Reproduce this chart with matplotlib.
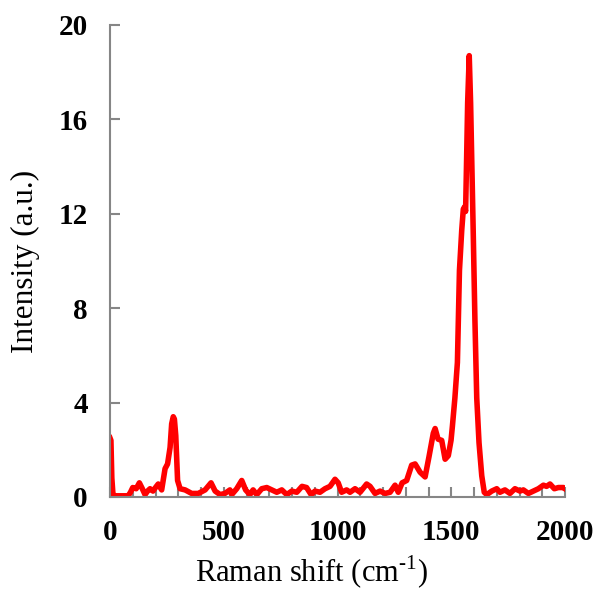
import matplotlib
matplotlib.use("Agg")
import matplotlib.pyplot as plt
from matplotlib.ticker import MultipleLocator

# spectrum (Raman shift, intensity)
shift = [0, 4, 8, 13, 20, 40, 80, 90, 100, 115, 129, 142, 154, 165, 176, 189, 200, 212,
         227, 242, 253, 264, 271, 278, 283, 289, 297, 308, 330, 359, 388, 418, 444, 462,
         484, 505, 527, 535, 557, 579, 596, 615, 629, 645, 667, 689, 711, 733, 755, 777,
         799, 821, 844, 864, 884, 901, 923, 945, 967, 989, 1003, 1018, 1040, 1055, 1077,
         1099, 1128, 1143, 1165, 1187, 1209, 1231, 1253, 1267, 1284, 1304, 1326, 1341,
         1363, 1385, 1402, 1421, 1429, 1442, 1458, 1473, 1487, 1499, 1505, 1516, 1527,
         1536, 1546, 1553, 1559, 1563, 1568, 1572, 1579, 1585, 1590, 1597, 1604, 1612,
         1622, 1634, 1645, 1656, 1678, 1700, 1714, 1736, 1758, 1780, 1802, 1817, 1839,
         1861, 1883, 1905, 1919, 1934, 1953, 1971, 1993, 2000]
intensity = [2.5, 2.4, 0.8, 0.1, 0.05, 0.05, 0.05, 0.2, 0.4, 0.35, 0.6, 0.35, 0.1, 0.25,
             0.35, 0.25, 0.4, 0.55, 0.3, 1.2, 1.4, 2.1, 3.1, 3.4, 3.3, 2.6, 0.7, 0.35, 0.3,
             0.15, 0.15, 0.3, 0.6, 0.25, 0.1, 0.15, 0.3, 0.1, 0.35, 0.7, 0.3, 0.1, 0.3, 0.1,
             0.35, 0.4, 0.3, 0.2, 0.3, 0.1, 0.25, 0.2, 0.45, 0.4, 0.1, 0.25, 0.2, 0.35,
             0.45, 0.75, 0.6, 0.2, 0.3, 0.2, 0.35, 0.2, 0.55, 0.45, 0.15, 0.25, 0.15, 0.2,
             0.5, 0.2, 0.6, 0.7, 1.35, 1.4, 1.05, 0.85, 1.7, 2.7, 2.9, 2.45, 2.4, 1.6, 1.75,
             2.4, 3.0, 4.2, 5.7, 9.6, 11.3, 12.2, 12.3, 12.1, 14.6, 16.7, 18.7, 16.7, 14.3,
             11.0, 7.5, 4.2, 2.3, 0.9, 0.2, 0.1, 0.25, 0.35, 0.2, 0.3, 0.15, 0.35, 0.25,
             0.3, 0.15, 0.25, 0.35, 0.5, 0.45, 0.55, 0.35, 0.4, 0.4, 0.35]

plt.rcParams['font.family'] = 'Liberation Serif'
plt.rcParams['mathtext.fontset'] = 'custom'
plt.rcParams['mathtext.rm'] = 'Liberation Serif'

fig = plt.figure(figsize=(5.95, 5.92), dpi=100)
ax = fig.add_axes([0.1849, 0.1605, 0.7647, 0.7973])

ax.plot(shift, intensity, color='#ff0000', lw=4.0, solid_joinstyle='round')

ax.set_xlim(0, 2000)
ax.set_ylim(0, 20)
ax.xaxis.set_major_locator(MultipleLocator(500))
ax.xaxis.set_minor_locator(MultipleLocator(100))
ax.yaxis.set_major_locator(MultipleLocator(4))

for s in ['top', 'right']:
    ax.spines[s].set_visible(False)
for s in ['left', 'bottom']:
    ax.spines[s].set_color('#868686')
    ax.spines[s].set_linewidth(1.5)

ax.tick_params(which='both', direction='in', color='#868686', width=1.5, length=7)
ax.tick_params(axis='x', pad=16)
ax.tick_params(axis='y', pad=16)
for lab in ax.get_xticklabels() + ax.get_yticklabels():
    lab.set_fontsize(21)
    lab.set_fontweight('bold')

ax.set_xlabel('Raman shift (cm$^{\\text{-}1}$)', fontsize=22)
ax.xaxis.set_label_coords(0.442, -0.12)
ax.set_ylabel('Intensity (a.u.)', fontsize=22.5, labelpad=13)

fig.savefig('out.png', dpi=100)
